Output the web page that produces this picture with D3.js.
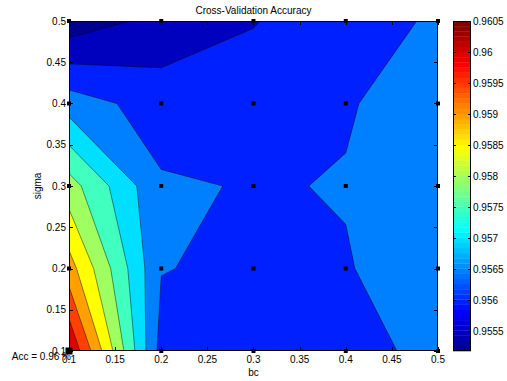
<!DOCTYPE html>
<html>
<head>
<meta charset="utf-8">
<style>
  body { margin: 0; background: #fff; }
  text { font-family: "Liberation Sans", Arial, sans-serif; font-size: 10px; fill: #000; }
</style>
</head>
<body>
<div id="chart-area"></div>
<script src="https://d3js.org/d3.v7.min.js"></script>
<script>
  // grid of the search
  const bcValues = [0.1, 0.2, 0.3, 0.4, 0.5];
  const sigmaValues = [0.1, 0.2, 0.3, 0.4, 0.5];

  // accuracy rows, one per sigma (0.1 .. 0.5), columns follow bcValues
  const accSigma01 = [0.9605, 0.9563, 0.9563, 0.95635, 0.95662];
  const accSigma02 = [0.95922, 0.95652, 0.95639, 0.956477, 0.95671];
  const accSigma03 = [0.95822, 0.95656, 0.95647, 0.95652, 0.9567];
  const accSigma04 = [0.95676, 0.95626, 0.95631, 0.95647, 0.95668];
  const accSigma05 = [0.95518, 0.95566, 0.95597, 0.9564, 0.95653];
  const accuracy = [accSigma01, accSigma02, accSigma03, accSigma04, accSigma05];

  const levels = [0.9555, 0.956, 0.9565, 0.957, 0.9575, 0.958, 0.9585, 0.959, 0.9595, 0.96];
  const xTicks = [0.1, 0.15, 0.2, 0.25, 0.3, 0.35, 0.4, 0.45, 0.5];
  const yTicks = [0.1, 0.15, 0.2, 0.25, 0.3, 0.35, 0.4, 0.45, 0.5];
  const cbTicks = [0.9555, 0.956, 0.9565, 0.957, 0.9575, 0.958, 0.9585, 0.959, 0.9595, 0.96, 0.9605];

  const width = 507, height = 381;
  const plot = { left: 69, right: 438, top: 21, bottom: 351 };
  const cb = { left: 453, right: 471 };

  const svg = d3.select("#chart-area").append("svg")
    .attr("width", width)
    .attr("height", height);

  const x = d3.scaleLinear().domain([0.1, 0.5]).range([plot.left, plot.right]);
  const y = d3.scaleLinear().domain([0.1, 0.5]).range([plot.bottom, plot.top]);

  const flat = [];
  accuracy.forEach(row => row.forEach(v => flat.push(v)));
  const cmin = d3.min(flat), cmax = d3.max(flat);

  // matlab jet(64)
  function u(k) {
    if (k < 1 || k > 47) return 0;
    if (k <= 16) return k / 16;
    if (k <= 31) return 1;
    return (48 - k) / 16;
  }
  function jet(i) {
    const k = i + 1;
    return d3.rgb(u(k - 24) * 255, u(k - 8) * 255, u(k + 8) * 255).formatHex();
  }
  function colorOf(v) {
    let i = Math.floor((v - cmin) / (cmax - cmin) * 64);
    i = Math.max(0, Math.min(63, i));
    return jet(i);
  }

  svg.append("clipPath").attr("id", "clip")
    .append("rect")
      .attr("x", plot.left).attr("y", plot.top)
      .attr("width", plot.right - plot.left)
      .attr("height", plot.bottom - plot.top);

  const g = svg.append("g").attr("clip-path", "url(#clip)");

  // background = lowest colour
  g.append("rect")
    .attr("x", plot.left).attr("y", plot.top)
    .attr("width", plot.right - plot.left)
    .attr("height", plot.bottom - plot.top)
    .attr("fill", colorOf(cmin));

  const contours = d3.contours()
    .size([bcValues.length, sigmaValues.length])
    .thresholds(levels)(flat);

  // grid index space -> data -> pixels
  const gi = d3.scaleLinear().domain([0.5, bcValues.length - 0.5]).range([bcValues[0], bcValues[bcValues.length - 1]]);
  const gj = d3.scaleLinear().domain([0.5, sigmaValues.length - 0.5]).range([sigmaValues[0], sigmaValues[sigmaValues.length - 1]]);
  const path = d3.geoPath(d3.geoTransform({
    point: function(px, py) { this.stream.point(x(gi(px)), y(gj(py))); }
  }));

  g.selectAll("path.fill")
    .data(contours)
    .enter().append("path")
      .attr("class", "fill")
      .attr("d", path)
      .attr("fill", d => colorOf(d.value));

  g.selectAll("path.line")
    .data(contours)
    .enter().append("path")
      .attr("class", "line")
      .attr("d", path)
      .attr("fill", "none")
      .attr("stroke", "#000")
      .attr("stroke-opacity", 0.75)
      .attr("stroke-width", 0.6);

  // axes box and inward ticks
  const tl = 4;
  const ax = svg.append("g").attr("stroke", "#000").attr("stroke-width", 1);
  xTicks.forEach(t => {
    const px = Math.round(x(t)) + 0.5;
    ax.append("line").attr("x1", px).attr("x2", px).attr("y1", plot.bottom).attr("y2", plot.bottom - tl);
    ax.append("line").attr("x1", px).attr("x2", px).attr("y1", plot.top).attr("y2", plot.top + tl);
  });
  yTicks.forEach(t => {
    const py = Math.round(y(t)) + 0.5;
    ax.append("line").attr("x1", plot.left).attr("x2", plot.left + tl).attr("y1", py).attr("y2", py);
    ax.append("line").attr("x1", plot.right).attr("x2", plot.right - tl).attr("y1", py).attr("y2", py);
  });
  ax.append("rect")
    .attr("x", plot.left + 0.5).attr("y", plot.top + 0.5)
    .attr("width", plot.right - plot.left - 1)
    .attr("height", plot.bottom - plot.top - 1)
    .attr("fill", "none");

  // grid markers
  bcValues.forEach(b => {
    sigmaValues.forEach(s => {
      svg.append("rect")
        .attr("x", x(b) - 2).attr("y", y(s) - 2)
        .attr("width", 4).attr("height", 4)
        .attr("fill", "#000");
    });
  });

  // tick labels
  const fmt = v => String(+v.toFixed(4));
  xTicks.forEach(t => {
    svg.append("text").attr("x", x(t)).attr("y", 363)
      .attr("text-anchor", "middle").text(fmt(t));
  });
  yTicks.forEach(t => {
    svg.append("text").attr("x", 66).attr("y", y(t) + 3.5)
      .attr("text-anchor", "end").text(fmt(t));
  });

  svg.append("text").attr("x", (plot.left + plot.right) / 2).attr("y", 14)
    .attr("text-anchor", "middle").text("Cross-Validation Accuracy");
  svg.append("text").attr("x", (plot.left + plot.right) / 2).attr("y", 376)
    .attr("text-anchor", "middle").text("bc");
  svg.append("text")
    .attr("transform", `translate(41, ${(plot.top + plot.bottom) / 2}) rotate(-90)`)
    .attr("text-anchor", "middle").text("sigma");

  // best point
  const best = flat.indexOf(cmax);
  const bestBc = bcValues[best % bcValues.length];
  const bestSigma = sigmaValues[Math.floor(best / bcValues.length)];
  svg.append("text").attr("x", x(bestBc) + 2).attr("y", y(bestSigma) + 8.5)
    .attr("text-anchor", "end").text("Acc = " + cmax.toFixed(2) + " %");
  svg.append("rect")
    .attr("x", x(bestBc) - 3.5).attr("y", y(bestSigma) - 3.5)
    .attr("width", 7).attr("height", 7)
    .attr("fill", "#000");

  // colorbar
  const cy = d3.scaleLinear().domain([cmin, cmax]).range([plot.bottom, plot.top]);
  const bandH = (plot.bottom - plot.top) / 64;
  d3.range(64).forEach(i => {
    svg.append("rect")
      .attr("x", cb.left)
      .attr("y", plot.bottom - (i + 1) * bandH)
      .attr("width", cb.right - cb.left)
      .attr("height", bandH + 0.3)
      .attr("fill", jet(i));
  });
  const cbAxis = svg.append("g").attr("stroke", "#000").attr("stroke-width", 1);
  cbTicks.forEach(t => {
    const py = Math.round(cy(t)) + 0.5;
    cbAxis.append("line").attr("x1", cb.left).attr("x2", cb.left + 3).attr("y1", py).attr("y2", py);
    cbAxis.append("line").attr("x1", cb.right).attr("x2", cb.right - 3).attr("y1", py).attr("y2", py);
    svg.append("text").attr("x", cb.right + 2).attr("y", cy(t) + 3.5).text(fmt(t));
  });
  cbAxis.append("rect")
    .attr("x", cb.left + 0.5).attr("y", plot.top + 0.5)
    .attr("width", cb.right - cb.left - 1)
    .attr("height", plot.bottom - plot.top - 1)
    .attr("fill", "none");
</script>
</body>
</html>
